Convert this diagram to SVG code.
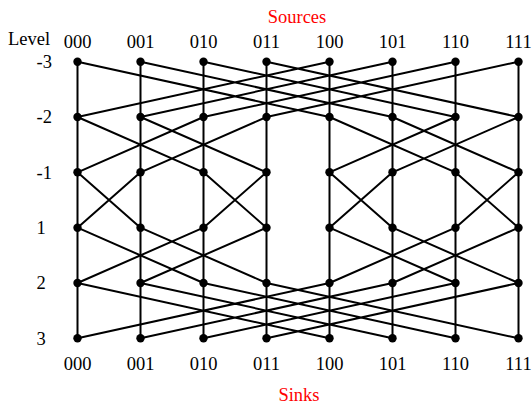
<svg xmlns="http://www.w3.org/2000/svg" width="532" height="404" viewBox="0 0 532 404">
<style>
text{font-family:"Liberation Serif","Times New Roman",serif;font-size:18.5px;fill:#000}
.c{text-anchor:middle}
.r{fill:#f00}
.e{stroke:#000;stroke-width:2;fill:none}
.n{fill:#000}
</style>
<rect width="532" height="404" fill="#fff"/>
<text class="c r" x="297" y="23">Sources</text>
<text class="c r" x="299" y="401">Sinks</text>
<text x="8" y="45">Level</text>
<g id="level-labels">
<text x="36.5" y="68">-3</text>
<text x="36.5" y="123.3">-2</text>
<text x="36.5" y="178.6">-1</text>
<text x="36.5" y="234">1</text>
<text x="36.5" y="289.3">2</text>
<text x="36.5" y="344.6">3</text>
</g>
<g id="source-labels">
<text class="c" x="77.5" y="48">000</text>
<text class="c" x="140.5" y="48">001</text>
<text class="c" x="203.5" y="48">010</text>
<text class="c" x="266.5" y="48">011</text>
<text class="c" x="329.5" y="48">100</text>
<text class="c" x="392.5" y="48">101</text>
<text class="c" x="455.5" y="48">110</text>
<text class="c" x="518.5" y="48">111</text>
</g>
<g id="sink-labels">
<text class="c" x="77.5" y="370">000</text>
<text class="c" x="140.5" y="370">001</text>
<text class="c" x="203.5" y="370">010</text>
<text class="c" x="266.5" y="370">011</text>
<text class="c" x="329.5" y="370">100</text>
<text class="c" x="392.5" y="370">101</text>
<text class="c" x="455.5" y="370">110</text>
<text class="c" x="518.5" y="370">111</text>
</g>
<g id="connectors" class="e">
<path class="e" d="M77.5 61.7V338.3M140.5 61.7V338.3M203.5 61.7V338.3M266.5 61.7V338.3M329.5 61.7V338.3M392.5 61.7V338.3M455.5 61.7V338.3M518.5 61.7V338.3"/>
<path class="e" d="M77.5 61.7L329.5 117M140.5 61.7L392.5 117M203.5 61.7L455.5 117M266.5 61.7L518.5 117M329.5 61.7L77.5 117M392.5 61.7L140.5 117M455.5 61.7L203.5 117M518.5 61.7L266.5 117"/>
<path class="e" d="M77.5 117L203.5 172.3M140.5 117L266.5 172.3M203.5 117L77.5 172.3M266.5 117L140.5 172.3M329.5 117L455.5 172.3M392.5 117L518.5 172.3M455.5 117L329.5 172.3M518.5 117L392.5 172.3"/>
<path class="e" d="M77.5 172.3L140.5 227.7M140.5 172.3L77.5 227.7M203.5 172.3L266.5 227.7M266.5 172.3L203.5 227.7M329.5 172.3L392.5 227.7M392.5 172.3L329.5 227.7M455.5 172.3L518.5 227.7M518.5 172.3L455.5 227.7"/>
<path class="e" d="M77.5 227.7L203.5 283M140.5 227.7L266.5 283M203.5 227.7L77.5 283M266.5 227.7L140.5 283M329.5 227.7L455.5 283M392.5 227.7L518.5 283M455.5 227.7L329.5 283M518.5 227.7L392.5 283"/>
<path class="e" d="M77.5 283L329.5 338.3M140.5 283L392.5 338.3M203.5 283L455.5 338.3M266.5 283L518.5 338.3M329.5 283L77.5 338.3M392.5 283L140.5 338.3M455.5 283L203.5 338.3M518.5 283L266.5 338.3"/>
</g>
<g id="nodes" class="n">
<g id="n-3_000"><circle cx="77.5" cy="61.7" r="4.2"/></g>
<g id="n-3_001"><circle cx="140.5" cy="61.7" r="4.2"/></g>
<g id="n-3_010"><circle cx="203.5" cy="61.7" r="4.2"/></g>
<g id="n-3_011"><circle cx="266.5" cy="61.7" r="4.2"/></g>
<g id="n-3_100"><circle cx="329.5" cy="61.7" r="4.2"/></g>
<g id="n-3_101"><circle cx="392.5" cy="61.7" r="4.2"/></g>
<g id="n-3_110"><circle cx="455.5" cy="61.7" r="4.2"/></g>
<g id="n-3_111"><circle cx="518.5" cy="61.7" r="4.2"/></g>
<g id="n-2_000"><circle cx="77.5" cy="117" r="4.2"/></g>
<g id="n-2_001"><circle cx="140.5" cy="117" r="4.2"/></g>
<g id="n-2_010"><circle cx="203.5" cy="117" r="4.2"/></g>
<g id="n-2_011"><circle cx="266.5" cy="117" r="4.2"/></g>
<g id="n-2_100"><circle cx="329.5" cy="117" r="4.2"/></g>
<g id="n-2_101"><circle cx="392.5" cy="117" r="4.2"/></g>
<g id="n-2_110"><circle cx="455.5" cy="117" r="4.2"/></g>
<g id="n-2_111"><circle cx="518.5" cy="117" r="4.2"/></g>
<g id="n-1_000"><circle cx="77.5" cy="172.3" r="4.2"/></g>
<g id="n-1_001"><circle cx="140.5" cy="172.3" r="4.2"/></g>
<g id="n-1_010"><circle cx="203.5" cy="172.3" r="4.2"/></g>
<g id="n-1_011"><circle cx="266.5" cy="172.3" r="4.2"/></g>
<g id="n-1_100"><circle cx="329.5" cy="172.3" r="4.2"/></g>
<g id="n-1_101"><circle cx="392.5" cy="172.3" r="4.2"/></g>
<g id="n-1_110"><circle cx="455.5" cy="172.3" r="4.2"/></g>
<g id="n-1_111"><circle cx="518.5" cy="172.3" r="4.2"/></g>
<g id="n1_000"><circle cx="77.5" cy="227.7" r="4.2"/></g>
<g id="n1_001"><circle cx="140.5" cy="227.7" r="4.2"/></g>
<g id="n1_010"><circle cx="203.5" cy="227.7" r="4.2"/></g>
<g id="n1_011"><circle cx="266.5" cy="227.7" r="4.2"/></g>
<g id="n1_100"><circle cx="329.5" cy="227.7" r="4.2"/></g>
<g id="n1_101"><circle cx="392.5" cy="227.7" r="4.2"/></g>
<g id="n1_110"><circle cx="455.5" cy="227.7" r="4.2"/></g>
<g id="n1_111"><circle cx="518.5" cy="227.7" r="4.2"/></g>
<g id="n2_000"><circle cx="77.5" cy="283" r="4.2"/></g>
<g id="n2_001"><circle cx="140.5" cy="283" r="4.2"/></g>
<g id="n2_010"><circle cx="203.5" cy="283" r="4.2"/></g>
<g id="n2_011"><circle cx="266.5" cy="283" r="4.2"/></g>
<g id="n2_100"><circle cx="329.5" cy="283" r="4.2"/></g>
<g id="n2_101"><circle cx="392.5" cy="283" r="4.2"/></g>
<g id="n2_110"><circle cx="455.5" cy="283" r="4.2"/></g>
<g id="n2_111"><circle cx="518.5" cy="283" r="4.2"/></g>
<g id="n3_000"><circle cx="77.5" cy="338.3" r="4.2"/></g>
<g id="n3_001"><circle cx="140.5" cy="338.3" r="4.2"/></g>
<g id="n3_010"><circle cx="203.5" cy="338.3" r="4.2"/></g>
<g id="n3_011"><circle cx="266.5" cy="338.3" r="4.2"/></g>
<g id="n3_100"><circle cx="329.5" cy="338.3" r="4.2"/></g>
<g id="n3_101"><circle cx="392.5" cy="338.3" r="4.2"/></g>
<g id="n3_110"><circle cx="455.5" cy="338.3" r="4.2"/></g>
<g id="n3_111"><circle cx="518.5" cy="338.3" r="4.2"/></g>
</g>
</svg>
